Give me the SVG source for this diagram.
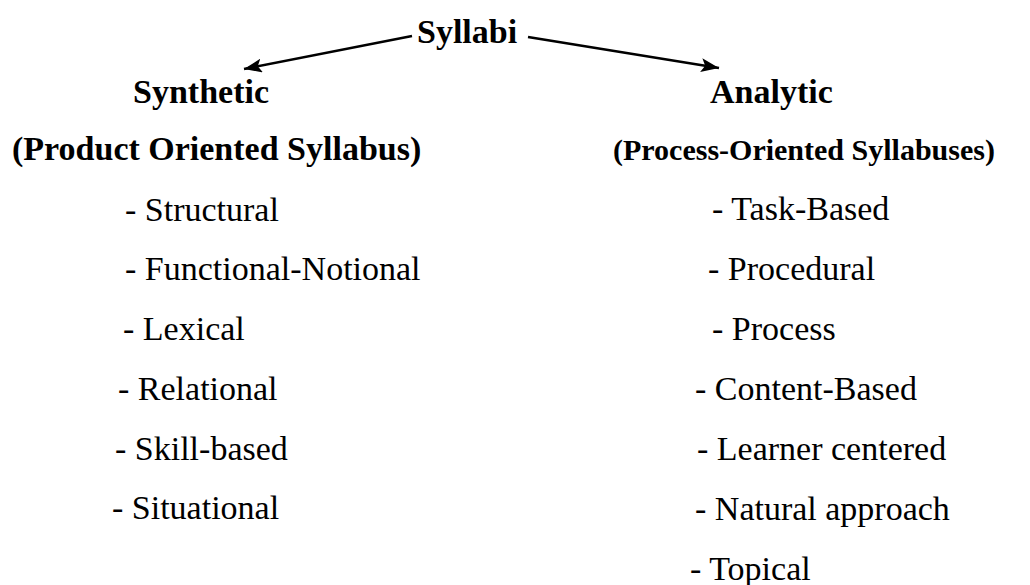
<svg xmlns="http://www.w3.org/2000/svg" width="1030" height="585" viewBox="0 0 1030 585" font-family="'Liberation Serif', 'DejaVu Serif', 'Times New Roman', serif">
  <style>
    text { font-family: 'Liberation Serif', 'DejaVu Serif', 'Times New Roman', serif; fill: #000; }
    .b { font-weight: bold; font-size: 34px; }
    .r { font-size: 34px; }
    .bs { font-weight: bold; font-size: 30px; }
    .conn { stroke: #000; stroke-width: 2.5; fill: none; }
  </style>
  <defs>
    <marker id="arrow" markerUnits="userSpaceOnUse" markerWidth="20" markerHeight="14" refX="18" refY="7" orient="auto">
      <path d="M0,0 L18,7 L0,14 L4,7 Z" fill="#000"/>
    </marker>
  </defs>
  <rect width="1030" height="585" fill="#fff"/>
  <g id="connectors">
    <line class="conn" x1="412" y1="36" x2="244" y2="69" marker-end="url(#arrow)"/>
    <line class="conn" x1="528" y1="37" x2="719" y2="68" marker-end="url(#arrow)"/>
  </g>
  <g id="root"><text class="b" x="417" y="43">Syllabi</text></g>
  <g id="synthetic">
    <text class="b" x="133" y="103">Synthetic</text>
    <text class="b" x="12" y="160">(Product Oriented Syllabus)</text>
  </g>
  <g id="analytic">
    <text class="b" x="710" y="103">Analytic</text>
    <text class="bs" x="613" y="160">(Process-Oriented Syllabuses)</text>
  </g>
  <g id="synthetic-items">
    <text class="r" x="125" y="221">- Structural</text>
    <text class="r" x="125" y="280">- Functional-Notional</text>
    <text class="r" x="123" y="340">- Lexical</text>
    <text class="r" x="118" y="400">- Relational</text>
    <text class="r" x="115" y="460">- Skill-based</text>
    <text class="r" x="112" y="519">- Situational</text>
  </g>
  <g id="analytic-items">
    <text class="r" x="712" y="220">- Task-Based</text>
    <text class="r" x="708" y="280">- Procedural</text>
    <text class="r" x="712" y="340">- Process</text>
    <text class="r" x="695" y="400">- Content-Based</text>
    <text class="r" x="697" y="460">- Learner centered</text>
    <text class="r" x="695" y="520">- Natural approach</text>
    <text class="r" x="690" y="580">- Topical</text>
  </g>
</svg>
